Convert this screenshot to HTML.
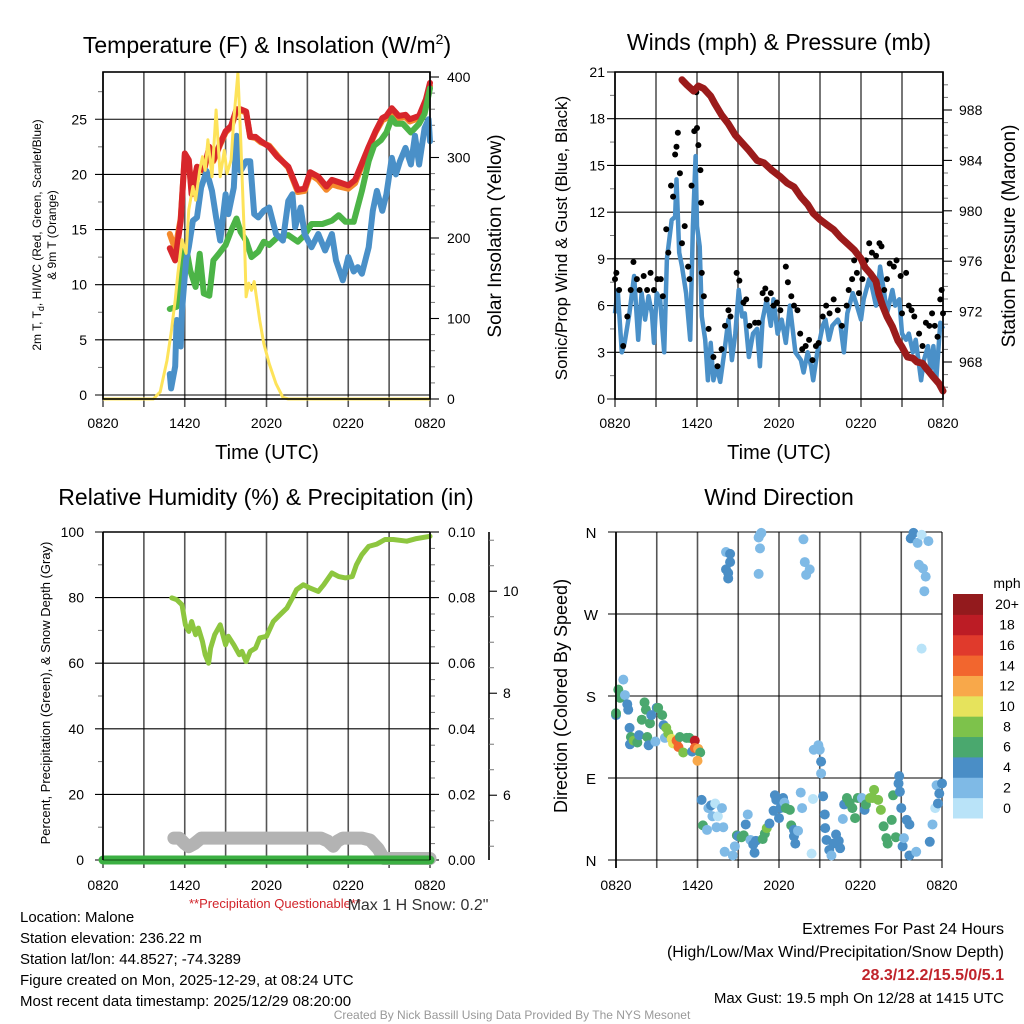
<!DOCTYPE html>
<html><head><meta charset="utf-8"><title>Malone Mesonet Meteogram</title>
<style>
html,body{margin:0;padding:0;background:#fff;}
svg{display:block;font-family:"Liberation Sans",Arial,sans-serif;}
</style></head>
<body>
<svg id="fig" width="1024" height="1024" viewBox="0 0 1024 1024" xmlns="http://www.w3.org/2000/svg"></svg>
<script>
// ---------- Panel 1: temperature & insolation ----------
const tempHours = [4.9,5.3,5.7,6.0,6.3,6.5,6.9,7.4,7.8,8.1,8.6,9.0,9.4,9.8,10.1,10.5,10.8,11.2,11.6,12.2,12.8,13.6,14.3,14.8,15.2,15.8,16.4,16.8,17.3,18.0,18.5,19.0,19.5,20.0,20.5,20.8,21.2,21.7,22.2,22.5,23.2,23.7,24];
const tempRed = [13.3,12.2,15.8,21.9,21.3,18.2,20.7,20.4,22.5,21.3,22.8,23.9,24.4,25.9,25.9,25.7,23.4,23.4,23.0,22.5,21.6,20.7,18.6,18.7,20.2,19.8,18.9,19.5,19.3,19.0,19.5,21.0,22.5,23.9,25.1,25.3,26.0,25.3,25.4,25.0,25.3,26.8,28.3];
const tempOrange = [14.6,13.2,16.0,21.7,21.2,18.5,20.6,20.3,22.3,21.2,22.7,23.8,24.3,25.7,25.8,25.6,23.4,23.3,22.9,22.6,21.7,20.6,18.4,18.5,20.0,19.5,18.6,19.1,18.9,18.7,19.2,20.8,22.4,23.8,24.9,25.1,25.8,25.1,25.2,24.8,25.1,26.6,28.0];
const dewHours = [4.9,5.0,5.3,5.4,5.7,5.8,6.1,6.3,6.6,6.9,7.2,7.6,8.0,8.3,8.6,9.0,9.2,9.6,9.8,10.1,10.5,10.8,11.1,11.4,11.8,12.2,12.7,13.2,13.6,13.9,14.1,14.5,14.8,15.3,15.8,16.3,16.8,17.1,17.6,18.0,18.4,18.7,19.0,19.5,19.8,20.1,20.5,20.8,21.2,21.5,21.8,22.2,22.6,22.9,23.2,23.6,23.9,24];
const tempBlue = [1.9,0.6,2.6,6.8,4.4,7.7,12.2,13.4,15.8,16.1,18.8,20.3,18.5,16.1,14.0,18.2,16.4,18.8,23.5,20.3,21.2,21.2,16.4,16.1,16.7,17.0,14.6,14.0,17.6,18.2,15.2,17.0,14.6,13.4,14.6,13.1,14.6,12.2,10.4,12.5,11.2,11.6,11.0,13.4,16.7,18.5,16.7,18.2,21.5,20.0,21.2,22.4,20.9,23.5,20.9,24.2,25.0,23.0];
const greenHours = [4.9,5.4,5.8,6.1,6.4,6.8,7.1,7.4,7.8,8.1,8.5,9.0,9.4,9.8,10.1,10.5,10.9,11.4,11.8,12.2,12.8,13.6,14.3,14.8,15.3,16.1,16.8,17.3,17.8,18.4,19.0,19.5,19.9,20.4,20.8,21.2,21.5,22.0,22.6,23.2,23.6,24];
const tempGreen = [7.8,8.0,12.2,13.4,11.3,9.8,12.8,9.2,9.0,12.2,12.8,13.6,14.9,16.0,14.8,14.0,12.5,13.0,13.9,13.6,14.3,14.5,13.9,14.5,15.5,15.5,15.8,16.3,15.7,15.7,18.5,21.2,22.6,23.1,23.8,25.1,24.6,24.6,23.8,24.6,25.5,27.8];
const solarHours = [0,3.7,4.2,4.7,5.0,5.3,5.5,5.8,6.1,6.3,6.6,6.8,7.1,7.3,7.5,7.7,8.0,8.3,8.6,8.9,9.1,9.4,9.6,9.9,10.1,10.4,10.5,10.7,10.9,11.1,11.5,11.8,12.2,12.7,13.2,13.6,24];
const solarVals = [0,0,9,48,82,123,156,198,181,235,264,247,284,301,284,322,276,359,276,309,280,297,347,405,326,189,127,144,135,146,98,69,44,19,2,0,0];
const p1TempTicks = [0,5,10,15,20,25];
const p1SolarTicks = [0,100,200,300,400];
const timeLabels = ["0820","1420","2020","0220","0820"];

// ---------- Panel 2: winds & pressure ----------
const windHours = [0,0.2,0.5,0.7,1.05,1.4,1.7,1.95,2.2,2.45,2.7,2.85,3.05,3.3,3.6,3.8,4.15,4.4,4.5,4.7,4.9,5.2,5.5,5.7,5.9,6.0,6.2,6.35,6.6,6.8,7.0,7.2,7.45,7.7,8.0,8.3,8.55,8.8,9.05,9.3,9.5,9.8,10.1,10.4,10.6,10.8,11.1,11.4,11.6,11.9,12.2,12.5,12.8,13.2,13.6,13.8,14.1,14.35,14.5,14.8,15.2,15.4,15.65,15.9,16.3,16.5,16.75,17.0,17.4,17.7,18.0,18.2,18.6,18.8,19.1,19.4,19.7,19.9,20.3,20.5,20.8,21.0,21.3,21.5,21.8,22.0,22.4,22.6,22.9,23.1,23.3,23.5,23.8,24];
const windSpeed = [5.5,7.0,3.0,3.6,5.5,7.9,3.8,6.8,5.1,6.6,5.5,3.6,6.8,6.4,3.0,9.0,11.5,11.7,14.1,9.4,8.5,6.8,3.8,11.1,15.6,11.1,9.8,5.3,3.8,1.2,3.6,1.2,2.1,1.1,3.0,5.1,2.5,4.2,7.0,5.3,5.5,2.7,4.2,4.5,2.1,5.1,6.4,4.7,6.4,4.2,5.1,3.6,6.0,3.0,2.5,1.7,3.0,2.1,1.2,3.0,4.7,5.1,3.8,4.7,5.1,4.7,3.0,5.5,6.8,6.0,5.1,6.4,7.7,7.2,6.0,8.5,6.8,5.5,7.0,6.0,6.4,4.2,3.8,4.2,3.0,3.8,1.2,2.5,3.4,1.9,3.4,1.2,4.9,4.5];
const gustHours = [0,0.1,0.3,0.6,0.9,1.15,1.35,1.6,1.8,2.1,2.35,2.6,2.85,3.1,3.35,3.5,3.75,3.9,4.1,4.25,4.4,4.5,4.6,4.75,4.9,5.1,5.35,5.45,5.6,5.8,5.95,6.0,6.1,6.25,6.3,6.35,6.5,6.85,7.2,7.5,7.8,8.05,8.3,8.45,8.9,9.1,9.4,9.6,9.85,10.25,10.5,10.8,11.0,11.1,11.4,11.6,11.85,12.1,12.5,12.65,12.9,13.1,13.35,13.55,13.7,13.95,14.2,14.45,14.7,14.9,15.2,15.45,15.7,16.0,16.3,16.6,16.95,17.1,17.35,17.5,17.7,17.85,18.1,18.35,18.6,18.8,19.1,19.35,19.5,19.7,19.9,20.1,20.4,20.6,20.9,21.0,21.3,21.5,21.7,21.9,22.25,22.5,22.75,23.0,23.2,23.4,23.6,23.8,23.9,24];
const gustSpeed = [7.7,8.1,7.0,3.4,5.3,7.0,8.8,7.7,7.0,7.9,7.0,8.1,7.0,7.7,7.7,6.6,10.9,9.4,13.7,13.0,15.7,16.2,17.1,14.5,10.0,11.1,8.5,7.7,13.7,17.2,19.7,17.4,16.3,14.7,12.6,8.1,6.6,4.5,2.7,2.1,3.2,4.7,5.7,5.3,8.1,7.6,6.2,6.4,4.7,4.9,4.9,6.8,7.1,6.4,6.8,6.0,6.2,5.7,8.5,7.5,6.6,6.0,5.7,4.2,3.2,3.4,3.8,2.5,3.4,3.6,5.3,6.0,5.5,6.4,5.7,4.7,6.0,7.0,7.7,8.9,8.1,6.8,7.7,8.9,10.0,9.4,9.2,10.0,9.8,7.0,7.7,8.7,8.5,8.9,7.9,5.5,8.1,6.0,5.7,5.3,4.2,3.4,4.9,4.7,5.5,4.7,4.0,6.4,7.0,5.5];
const presHours = [4.9,5.25,5.75,6.1,6.5,7.0,7.3,7.8,8.3,8.8,9.3,9.8,10.4,10.9,11.5,12.1,12.6,13.1,13.6,14.1,14.5,15.0,15.5,16.0,16.5,17.0,17.5,18.0,18.3,18.7,19.1,19.3,19.6,19.9,20.3,20.7,21.0,21.4,21.8,22.1,22.5,22.7,23.0,23.3,23.7,24];
const presVals = [990.4,990.0,989.5,989.9,989.7,989.1,988.5,987.6,986.9,986.0,985.4,984.8,984.0,983.8,983.2,982.7,982.2,981.9,981.1,980.5,979.8,979.3,978.9,978.5,977.9,977.4,976.9,976.2,975.5,975.0,974.4,973.4,972.4,971.6,970.8,969.7,969.2,968.4,968.3,968.0,967.9,967.6,967.2,966.8,966.3,965.7];
const p2WindTicks = [0,3,6,9,12,15,18,21];
const p2PresTicks = [968,972,976,980,984,988];

// ---------- Panel 3: RH, precip, snow ----------
const rhHours = [5.05,5.4,5.8,6.05,6.3,6.5,6.8,7.0,7.3,7.5,7.75,7.9,8.2,8.6,9.0,9.2,9.6,10.0,10.2,10.5,10.8,11.2,11.5,12.0,12.5,13.0,13.5,13.9,14.2,14.7,15.2,15.8,16.2,16.8,17.3,17.8,18.3,18.6,19.0,19.5,20.1,20.7,21.3,22.3,23.0,24.0];
const rhVals = [79.9,79.4,77.8,71.7,69.7,72.7,68.7,70.7,66.6,62.6,60.0,64.6,68.7,71.7,65.6,68.2,65.6,62.6,63.6,60.5,63.6,64.6,67.7,68.2,72.7,74.8,76.8,79.9,82.4,83.9,82.9,81.9,83.9,87.5,86.4,86.0,86.4,90.0,93.1,95.6,96.3,97.7,97.7,97.2,98.0,98.7];
const precipHours = [0,24];
const precipVals = [0,0];
const snowHours = [5.2,5.6,6.0,6.3,6.7,7.2,8.0,12.0,16.0,16.5,16.9,17.2,17.6,19.0,19.6,20.2,20.6,24.0];
const snowVals = [5.16,5.16,5.05,4.99,5.05,5.16,5.16,5.16,5.16,5.1,5.0,5.1,5.16,5.16,5.12,4.95,4.76,4.76];
const p3RhTicks = [0,20,40,60,80,100];
const p3PrecipTicks = ["0.00","0.02","0.04","0.06","0.08","0.10"];
const p3SnowTicks = [6,8,10];

// ---------- Panel 4: wind direction ----------
const dirHours = [0,0,0.17,0.3,0.54,0.66,0.83,0.9,1.0,1.1,1.03,1.3,1.57,1.7,1.9,2.1,2.2,2.3,2.4,2.5,2.6,2.9,3.0,3.1,3.4,3.5,3.7,3.6,3.85,4.1,4.2,4.46,4.6,4.7,4.95,5.2,5.4,5.6,5.8,5.8,6.05,6.2,6.0,6.3,6.4,6.7,6.8,7.0,7.1,7.3,7.4,7.5,7.8,7.9,8.0,8.1,8.1,8.26,8.26,8.4,8.4,8.6,8.75,8.9,9.0,9.24,9.4,9.55,9.7,9.9,10.1,10.2,10.3,10.5,10.6,10.7,10.6,10.5,10.8,10.96,11.1,11.3,11.6,11.7,11.8,12.0,12.1,12.3,12.4,12.5,12.8,12.9,13.1,13.1,13.2,13.4,13.6,13.7,13.8,13.9,14.0,14.26,14.4,14.5,14.56,14.9,15.0,15.1,15.1,15.25,15.37,15.4,15.5,15.7,15.86,16.0,16.2,16.4,16.5,16.7,16.8,17.0,17.2,17.4,17.6,17.8,18.1,18.3,18.4,18.7,18.9,19.0,19.3,19.5,19.7,19.9,20.0,20.3,20.4,20.6,20.8,20.85,20.9,21.0,21.1,21.2,21.4,21.6,21.6,21.7,21.9,22.1,22.2,22.3,22.5,22.5,22.6,22.7,22.8,23.0,23.1,23.3,23.5,23.6,23.7,23.8,24];
const dirDeg = [159,161,187,178,198,181,171,165,145,135,127,131,129,137,154,173,165,135,126,150,159,130,167,167,159,148,145,134,139,133,128,131,124,135,118,134,134,119,131,123,122,118,109,66,38,33,57,60,48,62,36,48,57,36,9,338,319,315,309,336,327,5,15,27,26,25,27,39,50,22,17,8,21,354,357,359,342,314,23,29,35,40,54,71,66,46,57,68,63,57,55,38,33,26,18,32,74,57,352,327,313,319,7,67,121,126,121,108,95,70,50,35,22,11,5,18,28,21,13,45,61,68,63,57,46,68,68,55,61,68,68,77,66,55,37,24,18,44,71,25,84,92,75,57,15,24,44,39,5,353,359,9,348,324,232,357,320,295,311,350,20,39,57,82,62,73,84];
const dirSpeed = [4,6,6,6,2,2,4,4,4,6,4,8,6,4,6,6,6,6,4,6,4,2,4,6,6,4,8,2,8,10,10,14,14,6,8,6,6,4,18,14,12,6,12,4,6,2,2,4,2,0,2,0,2,2,2,2,4,4,4,4,4,2,2,6,4,6,6,4,2,2,4,4,4,2,2,2,2,2,6,6,8,4,4,4,4,4,4,4,2,6,6,6,4,4,4,2,2,2,2,2,2,2,0,0,2,2,2,4,2,4,4,4,4,4,2,4,4,4,4,2,4,6,6,6,6,6,2,4,6,8,8,8,8,8,6,6,6,6,6,6,4,4,4,4,4,2,4,4,4,4,4,2,2,2,0,0,2,2,2,2,4,2,0,2,4,4,4];
const dirTicks = ["N","E","S","W","N"];
const cbLabels = ["0","2","4","6","8","10","12","14","16","18","20+"];
const cbColors = ["#b9e3f8","#7fbae6","#4a8ec6","#4aa86e","#7dc24b","#e6e35c","#f8a84a","#f2662e","#e03a2c","#bc1c25","#931a1d"];

// ---------- helpers ----------
const NS = "http://www.w3.org/2000/svg";
const svg = document.getElementById("fig");
function mk(tag, attrs, parent) {
  const e = document.createElementNS(NS, tag);
  for (const k in attrs) e.setAttribute(k, attrs[k]);
  (parent || svg).appendChild(e);
  return e;
}
function txt(s, x, y, size, anchor, parent, extra) {
  const t = mk("text", Object.assign({x: x, y: y, "font-size": size, "text-anchor": anchor || "middle", fill: "#000"}, extra || {}), parent);
  t.textContent = s;
  return t;
}
function pathFrom(xs, ys, fx, fy) {
  let d = "";
  for (let i = 0; i < xs.length; i++) d += (i ? "L" : "M") + fx(xs[i]).toFixed(1) + "," + fy(ys[i]).toFixed(1);
  return d;
}
function frame(g, L, T, R, B, xOf, hGrid) {
  for (let h = 0; h <= 24; h += 3) {
    const gl = mk("line", {x1: xOf(h), x2: xOf(h), y1: T, y2: B + 8, stroke: "#555", "stroke-width": 1.6}, g);
    
    
  }
  hGrid.forEach(y => {
    const hl = mk("line", {x1: L - 8, x2: R, y1: y, y2: y, stroke: "#000", "stroke-width": 1.1}, g);
    
    
  });
}
function border(g, L, T, R, B) {
  const r = mk("rect", {x: L, y: T, width: R - L, height: B - T, fill: "none", stroke: "#000", "stroke-width": 1.6}, g);
  
  
}
function timeTicks(g, xOf, y) {
  timeLabels.forEach((s, i) => {
    const t = txt(s, xOf(i * 6), y, 14, "middle", g);
    
    
  });
}
function minorTicks(g, x0, x1, ys) {
  ys.forEach(y => mk("line", {x1: x0, x2: x1, y1: y, y2: y, stroke: "#777", "stroke-width": 1}, g));
}

// ================= Panel 1 =================
(function () {
  const L = 103, R = 430, T = 72, B = 399;
  const x = h => L + h * (R - L) / 24;
  const yT = v => 395 - v * 11.03;
  const yS = v => 399 - v * 0.805;
  const g = mk("g", {});
  
  
  frame(g, L, T, R, B, x, p1TempTicks.map(yT));
  const mt = []; for (let v = 2.5; v < 30; v += 5) mt.push(yT(v));
  minorTicks(g, L - 5, L, mt);
  const ms = []; for (let v = 20; v <= 400; v += 20) if (v % 100) ms.push(yS(v));
  minorTicks(g, R, R + 5, ms);
  p1SolarTicks.forEach(v => mk("line", {x1: R, x2: R + 9, y1: yS(v), y2: yS(v), stroke: "#000", "stroke-width": 1.1}, g));
  const series = [
    [tempHours, tempOrange, "#f4892b", 6, "temp-9m-line"],
    [tempHours, tempRed, "#d7262b", 6, "temp-2m-line"],
    [greenHours, tempGreen, "#4cb447", 6, "dewpoint-line"],
    [dewHours, tempBlue, "#4a90c8", 6, "heat-index-windchill-line"]
  ];
  series.forEach(s => {
    const p = mk("path", {d: pathFrom(s[0], s[1], x, yT), fill: "none", stroke: s[2], "stroke-width": s[3], "stroke-linejoin": "round", "stroke-linecap": "round"}, g);
    
    
  });
  const sp = mk("path", {d: pathFrom(solarHours, solarVals, x, yS), fill: "none", stroke: "#fde35a", "stroke-width": 3, "stroke-linejoin": "round"}, g);
  
  
  border(g, L, T, R, B);
  p1TempTicks.forEach(v => {
    const t = txt(String(v), 87, yT(v) + 5, 14, "end", g);
    
    
  });
  p1SolarTicks.forEach(v => {
    const t = txt(String(v), 447, yS(v) + 5, 14, "start", g);
    
    
  });
  timeTicks(g, x, 428);
  const xt = txt("Time (UTC)", 267, 459, 20, "middle", g);
  
  
  const t1 = mk("text", {x: 267, y: 53, "font-size": 23, "text-anchor": "middle"}, g);
  t1.innerHTML = 'Temperature (F) &amp; Insolation (W/m<tspan dy="-9" font-size="14">2</tspan><tspan dy="9">)</tspan>';
  
  
  const yl = mk("text", {x: 0, y: 0, "font-size": 12, "text-anchor": "middle", transform: "translate(41,235) rotate(-90)"}, g);
  yl.innerHTML = '2m T, T<tspan dy="3" font-size="9">d</tspan><tspan dy="-3">, HI/WC (Red, Green, Scarlet/Blue)</tspan>';
  
  
  const yl2 = txt("& 9m T (Orange)", 0, 0, 12, "middle", g, {transform: "translate(56,235) rotate(-90)"});
  
  
  const yr = txt("Solar Insolation (Yellow)", 0, 0, 19, "middle", g, {transform: "translate(501,236) rotate(-90)"});
  
  
})();

// ================= Panel 2 =================
(function () {
  const L = 615, R = 943, T = 72, B = 399;
  const x = h => L + h * (R - L) / 24;
  const yW = v => B - v * (B - T) / 21;
  const yP = v => 110 - (v - 988) * 12.6;
  const g = mk("g", {});
  
  
  frame(g, L, T, R, B, x, p2WindTicks.map(yW));
  const mw = []; for (let v = 1.5; v < 21; v += 3) mw.push(yW(v));
  minorTicks(g, L - 5, L, mw);
  const mp = []; for (let v = 966; v <= 990; v += 1) if (v % 4) mp.push(yP(v));
  minorTicks(g, R, R + 5, mp);
  p2PresTicks.forEach(v => mk("line", {x1: R, x2: R + 9, y1: yP(v), y2: yP(v), stroke: "#000", "stroke-width": 1.1}, g));
  const wp = mk("path", {d: pathFrom(windHours, windSpeed, x, yW), fill: "none", stroke: "#4a90c8", "stroke-width": 4.5, "stroke-linejoin": "round"}, g);
  
  
  gustHours.forEach((h, i) => {
    const c = mk("circle", {cx: x(h), cy: yW(gustSpeed[i]), r: 3, fill: "#000"}, g);
    
    
  });
  const pp = mk("path", {d: pathFrom(presHours, presVals, x, yP), fill: "none", stroke: "#9b1b1b", "stroke-width": 7, "stroke-linejoin": "round", "stroke-linecap": "round"}, g);
  
  
  border(g, L, T, R, B);
  p2WindTicks.forEach(v => {
    const t = txt(String(v), 605, yW(v) + 5, 14, "end", g);
    
    
  });
  p2PresTicks.forEach(v => {
    const t = txt(String(v), 959, yP(v) + 5, 14, "start", g);
    
    
  });
  timeTicks(g, x, 428);
  const xt = txt("Time (UTC)", 779, 459, 20, "middle", g);
  
  
  const tt = txt("Winds (mph) & Pressure (mb)", 779, 50, 23, "middle", g);
  
  
  const yl = txt("Sonic/Prop Wind & Gust (Blue, Black)", 0, 0, 17, "middle", g, {transform: "translate(567,238) rotate(-90)"});
  
  
  const yr = txt("Station Pressure (Maroon)", 0, 0, 19, "middle", g, {transform: "translate(1015,236) rotate(-90)"});
  
  
})();

// ================= Panel 3 =================
(function () {
  const L = 103, R = 430, T = 532, B = 860;
  const x = h => L + h * (R - L) / 24;
  const yR = v => B - v * (B - T) / 100;
  const yPr = v => B - v * (B - T) / 0.1;
  const ySn = v => B - (v - 4.73) * 51;
  const g = mk("g", {});
  
  
  frame(g, L, T, R, B, x, p3RhTicks.map(yR));
  const mr = []; for (let v = 10; v < 100; v += 20) mr.push(yR(v));
  minorTicks(g, L - 5, L, mr);
  const mp = []; for (let v = 0.005; v < 0.1; v += 0.005) mp.push(yPr(v));
  minorTicks(g, R, R + 5, mp);
  p3PrecipTicks.forEach(s => mk("line", {x1: R, x2: R + 9, y1: yPr(+s), y2: yPr(+s), stroke: "#000", "stroke-width": 1.1}, g));
  const ax3 = mk("line", {x1: 489, x2: 489, y1: T, y2: B, stroke: "#000", "stroke-width": 1.6}, g);
  
  
  const m3 = []; for (let v = 5; v <= 11; v += 0.5) if (v % 2) m3.push(ySn(v));
  minorTicks(g, 489, 494, m3);
  p3SnowTicks.forEach(v => mk("line", {x1: 489, x2: 497, y1: ySn(v), y2: ySn(v), stroke: "#000", "stroke-width": 1.1}, g));
  const sn = mk("path", {d: pathFrom(snowHours, snowVals, x, ySn), fill: "none", stroke: "#b3b3b3", "stroke-width": 13, "stroke-linejoin": "round", "stroke-linecap": "round"}, g);
  
  
  const pr = mk("path", {d: pathFrom(precipHours, precipVals, x, yPr), fill: "none", stroke: "#3cb043", "stroke-width": 9, "stroke-linecap": "round"}, g);
  
  
  mk("line", {x1: L, x2: R, y1: B, y2: B, stroke: "#1e6e22", "stroke-width": 1.5}, g);
  const rh = mk("path", {d: pathFrom(rhHours, rhVals, x, yR), fill: "none", stroke: "#8dc63f", "stroke-width": 5, "stroke-linejoin": "round", "stroke-linecap": "round"}, g);
  
  
  mk("line", {x1: L, x2: L, y1: T, y2: B, stroke: "#000", "stroke-width": 1.6}, g);
  mk("line", {x1: R, x2: R, y1: T, y2: B, stroke: "#000", "stroke-width": 1.6}, g);
  mk("line", {x1: L, x2: R, y1: T, y2: T, stroke: "#000", "stroke-width": 1.6}, g);
  p3RhTicks.forEach(v => {
    const t = txt(String(v), 84, yR(v) + 5, 14, "end", g);
    
    
  });
  p3PrecipTicks.forEach(s => {
    const t = txt(s, 448, yPr(+s) + 5, 14, "start", g);
    
    
  });
  p3SnowTicks.forEach(v => {
    const t = txt(String(v), 503, ySn(v) + 5, 14, "start", g);
    
    
  });
  timeTicks(g, x, 890);
  const tt = txt("Relative Humidity (%) & Precipitation (in)", 266, 505, 23, "middle", g);
  
  
  const yl = txt("Percent, Precipitation (Green), & Snow Depth (Gray)", 0, 0, 13, "middle", g, {transform: "translate(50,693) rotate(-90)"});
  
  
  const q = txt("**Precipitation Questionable**", 275, 908, 13, "middle", g, {fill: "#d1242a"});
  
  
  const ms = txt("Max 1 H Snow: 0.2\"", 418, 910, 16, "middle", g, {fill: "#333"});
  
  
})();

// ================= Panel 4 =================
(function () {
  const L = 616, R = 942, T = 532, B = 860;
  const x = h => L + h * (R - L) / 24;
  const yD = d => B - d * (B - T) / 360;
  const g = mk("g", {});
  
  
  frame(g, L, T, R, B, x, dirTicks.map((s, i) => yD(i * 90)));
  const colorFor = s => cbColors[Math.min(10, Math.max(0, Math.round(s / 2)))];
  dirHours.forEach((h, i) => {
    const c = mk("circle", {cx: x(h), cy: yD(dirDeg[i]), r: 5, fill: colorFor(dirSpeed[i])}, g);
    
    
  });
  mk("line", {x1: L, x2: L, y1: T, y2: B + 8, stroke: "#000", "stroke-width": 1.6}, g);
  dirTicks.forEach((s, i) => {
    const t = txt(s, 591, yD(i * 90) + 6, 15, "middle", g);
    
    
  });
  timeTicks(g, x, 890);
  const tt = txt("Wind Direction", 779, 505, 23, "middle", g);
  
  
  const yl = txt("Direction (Colored By Speed)", 0, 0, 18, "middle", g, {transform: "translate(567,696) rotate(-90)"});
  
  
  const cb = mk("g", {}, g);
  
  
  const cbTop = 594, cbH = 224 / 11;
  cbColors.forEach((c, i) => {
    const y = cbTop + (10 - i) * cbH;
    const r = mk("rect", {x: 953, y: y, width: 30, height: cbH + 0.5, fill: c}, cb);
    
    
    const t = txt(cbLabels[i], 1007, y + cbH / 2 + 5, 14, "middle", cb);
    
    
  });
  const u = txt("mph", 1007, 588, 14, "middle", cb);
  
  
})();

// ================= Footer text =================
(function () {
  const g = mk("g", {});
  
  
  const left = ["Location: Malone", "Station elevation: 236.22 m", "Station lat/lon: 44.8527; -74.3289", "Figure created on Mon, 2025-12-29, at 08:24 UTC", "Most recent data timestamp: 2025/12/29 08:20:00"];
  left.forEach((s, i) => {
    const t = txt(s, 20, 922 + i * 21, 15, "start", g);
    
    
  });
  const r1 = txt("Extremes For Past 24 Hours", 1004, 934, 16, "end", g);
  
  
  const r2 = txt("(High/Low/Max Wind/Precipitation/Snow Depth)", 1004, 957, 16, "end", g);
  
  
  const r3 = txt("28.3/12.2/15.5/0/5.1", 1004, 980, 16, "end", g, {fill: "#c0242b", "font-weight": "bold"});
  
  
  const r4 = txt("Max Gust: 19.5 mph On 12/28 at 1415 UTC", 1004, 1003, 15, "end", g);
  
  
  const f = txt("Created By Nick Bassill Using Data Provided By The NYS Mesonet", 512, 1019, 12, "middle", g, {fill: "#999"});
  
  
})();
</script>
</body></html>
